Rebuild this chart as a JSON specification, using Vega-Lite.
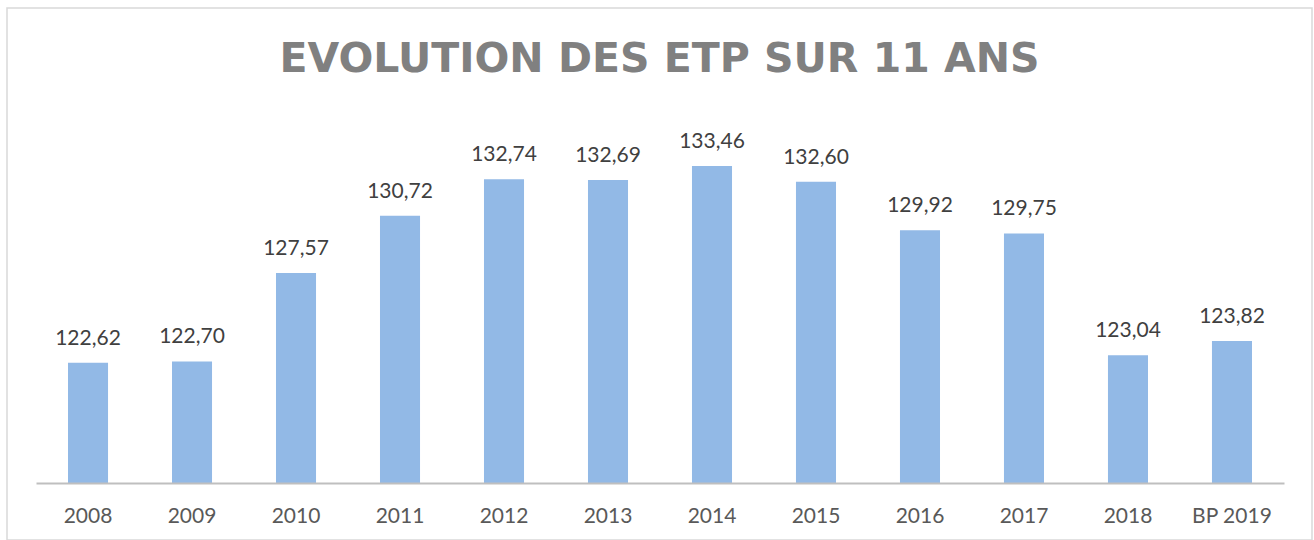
{
  "$schema": "https://vega.github.io/schema/vega-lite/v6.json",
  "width": 1305,
  "height": 532,
  "autosize": {"type": "none"},
  "padding": {"left": 7, "top": 8, "right": 2, "bottom": 0},
  "background": "white",
  "config": {
    "locale": {"number": {"decimal": ",", "thousands": "\u00a0", "grouping": [3], "currency": ["", " €"]}},
    "view": {"stroke": "#D9D9D9", "strokeWidth": 1.5},
    "font": "Lato"
  },
  "title": {
    "text": "EVOLUTION DES ETP SUR 11 ANS",
    "font": "DejaVu Sans",
    "fontSize": 41,
    "fontWeight": "bold",
    "color": "#808080",
    "anchor": "middle",
    "baseline": "alphabetic",
    "offset": -105
  },
  "data": {
    "values": [
      {"annee": "2008", "etp": 122.62},
      {"annee": "2009", "etp": 122.70},
      {"annee": "2010", "etp": 127.57},
      {"annee": "2011", "etp": 130.72},
      {"annee": "2012", "etp": 132.74},
      {"annee": "2013", "etp": 132.69},
      {"annee": "2014", "etp": 133.46},
      {"annee": "2015", "etp": 132.60},
      {"annee": "2016", "etp": 129.92},
      {"annee": "2017", "etp": 129.75},
      {"annee": "2018", "etp": 123.04},
      {"annee": "BP 2019", "etp": 123.82}
    ]
  },
  "encoding": {
    "x": {
      "field": "annee",
      "type": "nominal",
      "sort": null,
      "scale": {"range": [29, 1277], "paddingInner": 0.615, "paddingOuter": 0.3077},
      "axis": {
        "title": null,
        "orient": "bottom",
        "offset": -57,
        "domainColor": "#BFBFBF",
        "domainWidth": 2,
        "ticks": false,
        "tickSize": 0,
        "labelPadding": 39,
        "labelBaseline": "alphabetic",
        "labelFontSize": 21,
        "labelColor": "#595959",
        "labelFont": "Lato",
        "labelAngle": 0,
        "grid": false,
        "zindex": 1
      }
    },
    "y": {
      "field": "etp",
      "type": "quantitative",
      "scale": {"domain": [112.86, 142.17], "zero": false, "nice": false},
      "axis": null
    }
  },
  "layer": [
    {
      "mark": {"type": "bar", "color": "#92B9E6"},
      "encoding": {"y2": {"datum": 116}}
    },
    {
      "mark": {"type": "text", "baseline": "alphabetic", "dy": -18, "fontSize": 21, "color": "#404040", "font": "Lato"},
      "encoding": {"text": {"field": "etp", "type": "quantitative", "format": ".2f"}}
    }
  ]
}
